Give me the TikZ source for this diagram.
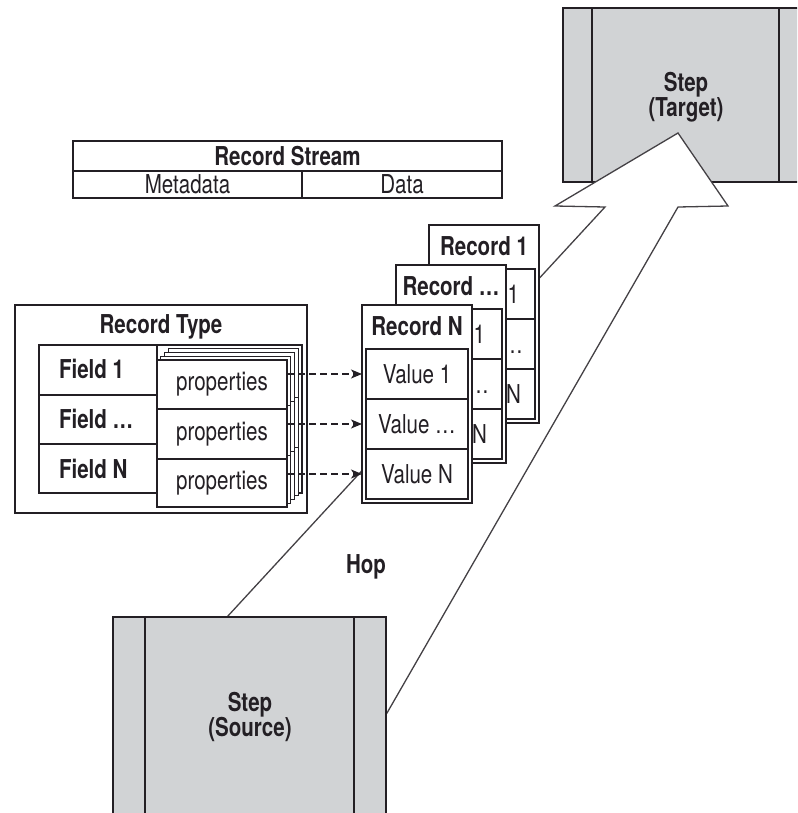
\documentclass[tikz,border=0pt]{standalone}
\usepackage{fontspec}
\setmainfont{TeX Gyre Heros}[FakeStretch=0.79]
\usetikzlibrary{arrows.meta}
\definecolor{ink}{RGB}{35,31,36}
\definecolor{stepgray}{RGB}{209,211,213}
\newcommand{\reccard}[4]{% #1 name, #2 x, #3 y, #4 title
  \node[rbox, minimum width=110pt, minimum height=198pt] (#1) at (#2,#3) {};
  \node (#1t) at ({#2+55},{#3+21}) {\bfseries #4};
  \node[rbox, minimum width=102pt, minimum height=50pt] (#1v1) at ({#2+4},{#3+44}) {};
  \node[rbox, minimum width=102pt, minimum height=50pt] (#1v2) at ({#2+4},{#3+94}) {};
  \node[rbox, minimum width=102pt, minimum height=50pt] (#1v3) at ({#2+4},{#3+144}) {};
}
\newcommand{\recfrag}[4]{% #1 name, #2 #3 #4 right end x of each text
  \node[anchor=east] (#1f1) at (#1v1.center -| #2,0) {\vphantom{V}1};
  \node[anchor=east] (#1f2) at (#1v2.center -| #3,0) {\vphantom{V}\dots};
  \node[anchor=east] (#1f3) at (#1v3.center -| #4,0) {\vphantom{V}N};
}
\newcommand{\propstack}[2]{% #1 offset, #2 name suffix
  \node[rbox, minimum width=130pt, minimum height=49pt] (ps#2a) at ({157+#1},{360-#1}) {};
  \node[rbox, minimum width=130pt, minimum height=50pt] (ps#2b) at ({157+#1},{409-#1}) {};
  \node[rbox, minimum width=130pt, minimum height=48pt] (ps#2c) at ({157+#1},{459-#1}) {};
}
\begin{document}
\begin{tikzpicture}[x=1pt,y=-1pt,line join=miter,
  every node/.style={text=ink, font=\fontsize{26}{25}\selectfont, inner sep=0pt, outer sep=0pt},
  rbox/.style={draw=ink, line width=1.3pt, fill=white, anchor=north west},
  stepbox/.style={draw=ink, line width=1.3pt, fill=stepgray, anchor=north west},
  dasharrow/.style={draw=ink, line width=1.3pt, dash pattern=on 7pt off 4pt, -{Stealth[length=11pt,width=9pt,inset=3pt]}},
  hopline/.style={draw=ink!85, line width=1.3pt, fill=white, line join=miter}]
\useasboundingbox (0,0) rectangle (797,813);
\clip (0,0) rectangle (797,813);

% target step
\node[stepbox, minimum width=245pt, minimum height=174pt] (tgt) at (563,8) {};
\draw[draw=ink, line width=1.3pt] (592,8) -- (592,182) (779,8) -- (779,182);
\node[align=center] (tgtt) at (686,97) {\bfseries Step\\\bfseries (Target)};

% hop arrow
\coordinate (hA) at (227,617);
\coordinate (hB) at (605,207);
\coordinate (hC) at (555,206);
\coordinate (hD) at (678,133);
\coordinate (hE) at (728,206);
\coordinate (hF) at (678,207);
\coordinate (hG) at (387,713);
\draw[hopline] (hA) -- (hB) -- (hC) -- (hD) -- (hE) -- (hF) -- (hG) -- (300,760) -- cycle;

% source step
\node[stepbox, minimum width=273pt, minimum height=230pt] (src) at (113,617) {};
\draw[draw=ink, line width=1.3pt] (145,617) -- (145,850) (354,617) -- (354,850);
\node[align=center] (srct) at (250,717) {\bfseries Step\\\bfseries (Source)};

% record stream
\node[rbox, line width=1.8pt, minimum width=429pt, minimum height=30pt] (rs) at (73,141) {\bfseries Record Stream};
\node[rbox, line width=1.8pt, minimum width=229pt, minimum height=27pt] (meta) at (73,171) {Metadata};
\node[rbox, line width=1.8pt, minimum width=200pt, minimum height=27pt] (data) at (302,171) {Data};

% record type
\node[rbox, minimum width=292pt, minimum height=208pt] (rt) at (15,305) {};
\node (rtt) at (161,327) {\bfseries Record Type};
\node[rbox, minimum width=263pt, minimum height=148pt] (ft) at (39,345) {};
\node[rbox, minimum width=118pt, minimum height=50pt] (f1) at (39,345) {};
\node[rbox, minimum width=118pt, minimum height=49pt] (f2) at (39,395) {};
\node[rbox, minimum width=118pt, minimum height=49pt] (f3) at (39,444) {};
\node[anchor=west] (f1t) at (59,369) {\bfseries Field 1};
\node[anchor=west] (f2t) at (59,419) {\bfseries Field \dots};
\node[anchor=west] (f3t) at (59,469) {\bfseries Field N};
\propstack{11.25}{3}
\propstack{7.5}{2}
\propstack{3.75}{1}
\node[rbox, minimum width=130pt, minimum height=49pt] (p1) at (157,360) {properties};
\node[rbox, minimum width=130pt, minimum height=50pt] (p2) at (157,409) {properties};
\node[rbox, minimum width=130pt, minimum height=48pt] (p3) at (157,459) {properties};

% records
\reccard{r1}{429}{225}{Record 1}
\recfrag{r1}{519}{523}{521}
\reccard{r2}{396}{265}{Record \dots}
\recfrag{r2}{485}{489}{487}
\reccard{rN}{362}{305}{Record N}
\node (rNt1) at (rNv1.center) {Value 1};
\node (rNt2) at (rNv2.center) {Value \dots};
\node (rNt3) at (rNv3.center) {Value N};

% dashed arrows
\draw[dasharrow] (p1.east |- rNv1.west) -- (rN.west |- rNv1.west);
\draw[dasharrow] (p2.east |- rNv2.west) -- (rN.west |- rNv2.west);
\draw[dasharrow] (p3.east |- rNv3.west) -- (rN.west |- rNv3.west);

% hop label
\node (hop) at (366,567) {\bfseries Hop};
\end{tikzpicture}
\end{document}
